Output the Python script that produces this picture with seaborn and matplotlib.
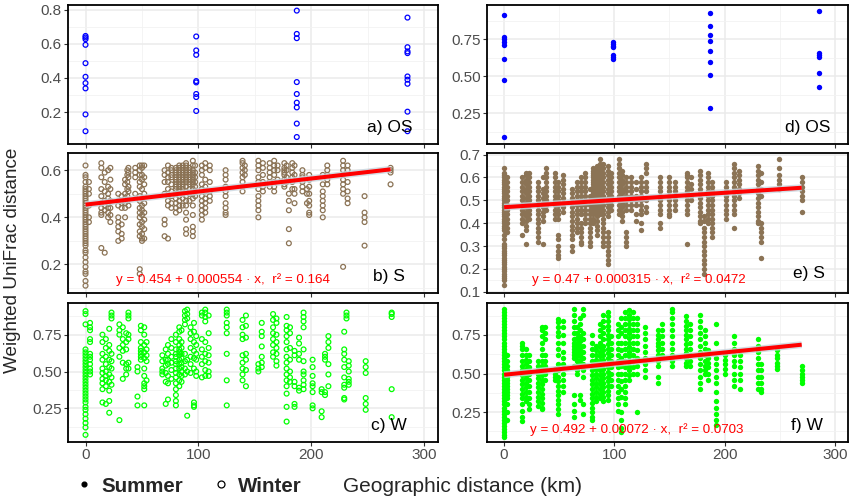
import matplotlib
matplotlib.use("Agg")
import matplotlib.pyplot as plt
import matplotlib.patheffects as pe
from matplotlib.lines import Line2D
from matplotlib.ticker import FormatStrFormatter
import pandas as pd
import seaborn as sns

# ---- data: geographic distance (km) columns and the UniFrac values at each ----
OS_WINTER_X = [0, 98, 187, 285]
OS_WINTER_Y = [
    [0.647, 0.638, 0.628, 0.595, 0.487, 0.407, 0.370, 0.339, 0.186, 0.087],
    [0.644, 0.562, 0.536, 0.382, 0.374, 0.306, 0.288, 0.206],
    [0.796, 0.659, 0.634, 0.376, 0.306, 0.255, 0.227, 0.132, 0.053],
    [0.755, 0.581, 0.556, 0.546, 0.409, 0.390, 0.366, 0.202, 0.087],
]

OS_SUMMER_X = [0, 99, 187, 286]
OS_SUMMER_Y = [
    [0.912, 0.768, 0.750, 0.730, 0.712, 0.619, 0.475, 0.088],
    [0.734, 0.721, 0.705, 0.696, 0.644, 0.628, 0.615],
    [0.930, 0.840, 0.782, 0.739, 0.673, 0.599, 0.507, 0.286],
    [0.944, 0.655, 0.644, 0.633, 0.523, 0.426],
]

S_WINTER_X = [0, 3, 14, 17, 20, 22, 29, 32, 35, 37, 38, 44, 48, 50, 52, 70, 73, 76,
              80, 83, 86, 89, 92, 95, 97, 103, 106, 110, 124, 139, 141, 153, 157, 163,
              167, 170, 176, 178, 180, 183, 185, 192, 196, 198, 210, 214, 228, 232,
              247, 270]
S_WINTER_Y = [
    [0.62, 0.58, 0.57, 0.55, 0.53, 0.52, 0.51, 0.50, 0.49, 0.48, 0.47, 0.46, 0.45, 0.44,
     0.43, 0.42, 0.41, 0.40, 0.39, 0.38, 0.37, 0.36, 0.35, 0.34, 0.33, 0.32, 0.31, 0.30,
     0.29, 0.28, 0.26, 0.25, 0.23, 0.21, 0.19, 0.17, 0.16, 0.13, 0.11],
    [0.55, 0.52, 0.50, 0.45, 0.40, 0.38],
    [0.63, 0.61, 0.57, 0.52, 0.49, 0.46, 0.44, 0.42, 0.41, 0.27],
    [0.59, 0.55, 0.51, 0.47, 0.45, 0.43, 0.25],
    [0.60, 0.53, 0.50, 0.48, 0.46, 0.44, 0.42, 0.40],
    [0.61, 0.56, 0.52, 0.47, 0.44, 0.41, 0.38],
    [0.50, 0.47, 0.45, 0.40, 0.38, 0.36, 0.34, 0.30],
    [0.49, 0.47, 0.46, 0.44, 0.37, 0.33, 0.31],
    [0.56, 0.54, 0.50, 0.48, 0.46, 0.44, 0.40],
    [0.60, 0.58, 0.55, 0.52, 0.49, 0.47],
    [0.61, 0.59, 0.57, 0.53, 0.51, 0.45],
    [0.61, 0.59, 0.57, 0.50],
    [0.62, 0.60, 0.58, 0.55, 0.53, 0.49, 0.47, 0.44, 0.42, 0.40, 0.37, 0.34, 0.32, 0.18, 0.16],
    [0.62, 0.61, 0.58, 0.56, 0.52, 0.48, 0.45, 0.43, 0.41, 0.38, 0.36, 0.33, 0.31, 0.30],
    [0.62, 0.57, 0.54, 0.50, 0.46, 0.42, 0.39, 0.35, 0.31],
    [0.60, 0.58, 0.55, 0.50, 0.39, 0.37, 0.32],
    [0.62, 0.59, 0.57, 0.55, 0.52, 0.49, 0.47, 0.45, 0.31],
    [0.61, 0.60, 0.58, 0.57, 0.54, 0.51, 0.49, 0.46, 0.44],
    [0.61, 0.60, 0.59, 0.58, 0.57, 0.56, 0.55, 0.54, 0.53, 0.52, 0.50, 0.48, 0.46, 0.44, 0.42],
    [0.62, 0.61, 0.60, 0.59, 0.58, 0.57, 0.56, 0.55, 0.54, 0.53, 0.52, 0.51, 0.49, 0.47, 0.45, 0.43],
    [0.62, 0.61, 0.60, 0.59, 0.58, 0.57, 0.56, 0.55, 0.54, 0.53, 0.52, 0.50, 0.48, 0.45],
    [0.63, 0.62, 0.61, 0.60, 0.59, 0.58, 0.57, 0.56, 0.55, 0.53, 0.51, 0.49, 0.47, 0.45, 0.42,
     0.39, 0.35, 0.33],
    [0.61, 0.60, 0.59, 0.58, 0.57, 0.56, 0.55, 0.54, 0.52, 0.50, 0.47],
    [0.64, 0.62, 0.60, 0.59, 0.58, 0.57, 0.56, 0.55, 0.54, 0.52, 0.50, 0.48, 0.45, 0.41,
     0.36, 0.34, 0.32],
    [0.62, 0.59, 0.57, 0.55, 0.53, 0.51, 0.49],
    [0.62, 0.60, 0.58, 0.54, 0.52, 0.49, 0.47, 0.45, 0.43, 0.41, 0.39],
    [0.63, 0.61, 0.56, 0.53, 0.51, 0.48, 0.46, 0.44, 0.42],
    [0.62, 0.60, 0.55, 0.51, 0.49, 0.47],
    [0.60, 0.58, 0.56, 0.53, 0.51, 0.49, 0.46, 0.44, 0.42, 0.41],
    [0.64, 0.63, 0.61, 0.59, 0.57, 0.55, 0.53, 0.51],
    [0.62, 0.60, 0.58],
    [0.64, 0.62, 0.60, 0.57, 0.55, 0.52, 0.49, 0.47, 0.45, 0.43, 0.40],
    [0.63, 0.61, 0.58, 0.55, 0.53, 0.51],
    [0.63, 0.61, 0.59, 0.57, 0.55, 0.53],
    [0.64, 0.62, 0.60, 0.58, 0.55, 0.53, 0.51],
    [0.62, 0.60, 0.56],
    [0.63, 0.61, 0.60, 0.59, 0.58, 0.56, 0.54, 0.53],
    [0.62, 0.60, 0.57, 0.55],
    [0.50, 0.47, 0.43, 0.35, 0.29],
    [0.63, 0.61, 0.59, 0.57, 0.55, 0.52],
    [0.62, 0.58, 0.52, 0.50, 0.46],
    [0.60, 0.58, 0.57, 0.55, 0.53, 0.51],
    [0.52, 0.50, 0.46],
    [0.58, 0.56, 0.53, 0.50, 0.47, 0.45, 0.42, 0.41],
    [0.58, 0.54, 0.51, 0.49, 0.47, 0.45, 0.43, 0.40],
    [0.62, 0.60, 0.58, 0.56, 0.54],
    [0.64, 0.62, 0.60, 0.58, 0.56, 0.54, 0.52, 0.50, 0.19],
    [0.62, 0.60, 0.55, 0.51, 0.48, 0.46],
    [0.49, 0.42, 0.40, 0.38, 0.28],
    [0.61, 0.60, 0.59, 0.54],
]

S_SUMMER_X = [0, 3, 16, 20, 23, 31, 35, 38, 46, 49, 53, 62, 66, 70, 73, 78, 81, 84, 87,
              90, 94, 97, 104, 107, 111, 115, 120, 124, 129, 141, 150, 155, 166, 170,
              178, 181, 185, 189, 201, 209, 213, 230, 233, 249, 270]
S_SUMMER_Y = [
    [0.64, 0.62, 0.61, 0.60, 0.59, 0.58, 0.57, 0.56, 0.55, 0.54, 0.53, 0.52, 0.51, 0.50,
     0.49, 0.48, 0.47, 0.46, 0.45, 0.44, 0.43, 0.42, 0.41, 0.40, 0.39, 0.38, 0.37, 0.35,
     0.33, 0.31, 0.30, 0.29, 0.28, 0.27, 0.26, 0.25, 0.24, 0.23, 0.22, 0.21, 0.20, 0.19,
     0.18, 0.17, 0.16, 0.15, 0.13],
    [0.60, 0.58, 0.56, 0.54, 0.52, 0.50, 0.48, 0.46, 0.44, 0.42, 0.40, 0.38, 0.36],
    [0.60, 0.58, 0.56, 0.54, 0.52, 0.50, 0.48, 0.46, 0.44, 0.42, 0.40, 0.35],
    [0.62, 0.61, 0.59, 0.57, 0.55, 0.53, 0.51, 0.49, 0.47, 0.45, 0.43, 0.41, 0.39, 0.37, 0.31],
    [0.62, 0.60, 0.58, 0.56, 0.54, 0.52, 0.50, 0.48, 0.46, 0.44, 0.42],
    [0.58, 0.56, 0.54, 0.52, 0.50, 0.48, 0.46, 0.44, 0.42, 0.40, 0.38, 0.36, 0.34, 0.32],
    [0.60, 0.55, 0.53, 0.51, 0.49, 0.47, 0.45, 0.43, 0.41, 0.31],
    [0.64, 0.62, 0.60, 0.58, 0.56, 0.54, 0.52, 0.50, 0.48, 0.46],
    [0.62, 0.60, 0.58, 0.56, 0.54, 0.52, 0.50, 0.48, 0.46, 0.44, 0.42],
    [0.58, 0.56, 0.54, 0.52, 0.50, 0.48, 0.46, 0.44, 0.42, 0.35, 0.33, 0.30, 0.28, 0.26, 0.25],
    [0.61, 0.59, 0.57, 0.55, 0.53, 0.51, 0.49, 0.47, 0.45],
    [0.55, 0.53, 0.51, 0.49, 0.47, 0.45, 0.43, 0.41, 0.39, 0.37, 0.35, 0.33, 0.30, 0.28],
    [0.58, 0.56, 0.54, 0.52, 0.50, 0.48, 0.46, 0.44, 0.42, 0.40, 0.38, 0.36],
    [0.60, 0.58, 0.56, 0.54, 0.52, 0.50, 0.48, 0.46, 0.44, 0.40, 0.38, 0.36, 0.34, 0.32, 0.31],
    [0.62, 0.60, 0.58, 0.56, 0.54, 0.52, 0.50, 0.48, 0.46, 0.44, 0.42, 0.40],
    [0.55, 0.52, 0.50, 0.48, 0.46, 0.44, 0.42, 0.40, 0.38, 0.36, 0.34, 0.32, 0.30],
    [0.64, 0.63, 0.62, 0.61, 0.60, 0.59, 0.58, 0.57, 0.56, 0.55, 0.54, 0.53, 0.52, 0.51,
     0.50, 0.49, 0.48, 0.47, 0.46, 0.45, 0.44, 0.42, 0.40],
    [0.65, 0.64, 0.63, 0.62, 0.61, 0.60, 0.59, 0.58, 0.57, 0.56, 0.55, 0.54, 0.53, 0.52,
     0.51, 0.50, 0.49, 0.48, 0.47, 0.46, 0.45, 0.44, 0.43, 0.41, 0.39, 0.37, 0.35],
    [0.68, 0.66, 0.64, 0.63, 0.62, 0.61, 0.60, 0.59, 0.58, 0.57, 0.56, 0.55, 0.54, 0.53,
     0.52, 0.51, 0.50, 0.49, 0.48, 0.47, 0.46, 0.45, 0.44],
    [0.66, 0.64, 0.62, 0.60, 0.58, 0.56, 0.54, 0.52, 0.50, 0.48, 0.46, 0.44, 0.42, 0.40,
     0.38, 0.36, 0.34, 0.32, 0.30],
    [0.65, 0.63, 0.61, 0.59, 0.57, 0.55, 0.53, 0.51, 0.49, 0.47, 0.45, 0.43, 0.36, 0.34,
     0.32, 0.30, 0.28, 0.26, 0.24, 0.22],
    [0.62, 0.60, 0.58, 0.56, 0.54, 0.52, 0.50, 0.48, 0.46],
    [0.68, 0.66, 0.64, 0.62, 0.60, 0.58, 0.56, 0.54, 0.52, 0.50, 0.48, 0.46, 0.44],
    [0.63, 0.61, 0.59, 0.57, 0.55, 0.53, 0.51, 0.49, 0.47, 0.45, 0.43, 0.41],
    [0.60, 0.58, 0.56, 0.54, 0.52, 0.50, 0.48, 0.46, 0.36, 0.34, 0.32, 0.30],
    [0.60, 0.58, 0.56, 0.54, 0.52, 0.50, 0.48, 0.46],
    [0.58, 0.55, 0.52, 0.50, 0.48, 0.44, 0.41],
    [0.60, 0.58, 0.56, 0.54, 0.52, 0.50, 0.48, 0.46, 0.44, 0.40, 0.37],
    [0.66, 0.64, 0.62, 0.58, 0.56, 0.54, 0.50, 0.47, 0.45],
    [0.60, 0.58, 0.56, 0.54, 0.52, 0.50, 0.48, 0.46, 0.44, 0.40, 0.38],
    [0.60, 0.58, 0.56, 0.54, 0.52, 0.50, 0.48, 0.46, 0.44, 0.43],
    [0.58, 0.56, 0.54, 0.52, 0.50, 0.48, 0.46],
    [0.62, 0.61, 0.60, 0.58, 0.56, 0.54, 0.52, 0.50, 0.48, 0.46, 0.44, 0.31],
    [0.60, 0.57, 0.55, 0.52, 0.50],
    [0.63, 0.61, 0.59, 0.57, 0.55, 0.53, 0.51, 0.49, 0.47, 0.45, 0.43, 0.41, 0.40],
    [0.43, 0.41, 0.38, 0.36, 0.34, 0.32, 0.30, 0.28, 0.26, 0.24, 0.22, 0.20, 0.18],
    [0.62, 0.60, 0.58, 0.56, 0.54, 0.52, 0.50, 0.48, 0.46, 0.44, 0.42, 0.40],
    [0.58, 0.56, 0.54, 0.52, 0.50, 0.48, 0.46, 0.44, 0.42, 0.40, 0.38, 0.36, 0.34],
    [0.58, 0.56, 0.54, 0.52, 0.50, 0.48, 0.46, 0.44, 0.42],
    [0.66, 0.64, 0.62, 0.60, 0.58, 0.56, 0.54, 0.52, 0.50, 0.48, 0.46, 0.44, 0.38],
    [0.63, 0.61, 0.59, 0.57, 0.55, 0.53, 0.51],
    [0.65, 0.63, 0.61, 0.59, 0.57, 0.55, 0.53, 0.51, 0.49, 0.47, 0.45, 0.43, 0.41, 0.40],
    [0.62, 0.58, 0.55, 0.52, 0.40, 0.38, 0.36, 0.34, 0.32, 0.25],
    [0.68, 0.64, 0.61, 0.59, 0.57, 0.55],
    [0.60, 0.58, 0.56, 0.54, 0.52, 0.50, 0.45],
]

W_WINTER_X = [0, 4, 15, 18, 21, 23, 30, 33, 36, 38, 46, 49, 52, 54, 68, 71, 73, 76,
              80, 83, 85, 88, 90, 93, 96, 98, 103, 106, 109, 125, 139, 142, 153, 156,
              166, 169, 178, 181, 185, 189, 193, 201, 209, 212, 215, 229, 231, 233,
              248, 271]
W_WINTER_Y = [
    [0.91, 0.89, 0.82, 0.65, 0.63, 0.61, 0.59, 0.57, 0.55, 0.53, 0.51, 0.49, 0.47, 0.45,
     0.43, 0.41, 0.39, 0.37, 0.35, 0.33, 0.31, 0.29, 0.26, 0.24, 0.21, 0.18, 0.15, 0.12, 0.07],
    [0.83, 0.80, 0.78, 0.72, 0.70, 0.62, 0.60, 0.58, 0.55, 0.52, 0.50, 0.48],
    [0.75, 0.70, 0.62, 0.58, 0.52, 0.49, 0.45, 0.42, 0.38, 0.29],
    [0.72, 0.66, 0.60, 0.55, 0.50, 0.47, 0.44, 0.40, 0.28],
    [0.79, 0.68, 0.64, 0.58, 0.53, 0.48, 0.43, 0.37, 0.30, 0.22],
    [0.90, 0.88, 0.86, 0.62, 0.57, 0.52, 0.46, 0.41],
    [0.82, 0.78, 0.75, 0.66, 0.60, 0.17],
    [0.80, 0.72, 0.68, 0.64, 0.56, 0.45],
    [0.76, 0.70, 0.65, 0.55, 0.52, 0.48],
    [0.90, 0.88, 0.86, 0.75, 0.72, 0.56, 0.52],
    [0.53, 0.50, 0.33, 0.27],
    [0.81, 0.78, 0.70, 0.66, 0.64, 0.62, 0.60, 0.58],
    [0.80, 0.75, 0.68, 0.63, 0.59, 0.52, 0.47, 0.42, 0.40, 0.38, 0.27],
    [0.70, 0.65, 0.61, 0.57, 0.44],
    [0.61, 0.57, 0.52, 0.50, 0.48],
    [0.65, 0.58, 0.54, 0.49, 0.43, 0.28],
    [0.68, 0.62, 0.58, 0.55, 0.47, 0.42, 0.31],
    [0.72, 0.66, 0.60, 0.56, 0.51, 0.45],
    [0.75, 0.70, 0.65, 0.62, 0.60, 0.57, 0.55, 0.52, 0.49, 0.46, 0.42, 0.38, 0.34, 0.30, 0.27],
    [0.80, 0.77, 0.72, 0.68, 0.65, 0.63, 0.61, 0.58, 0.55, 0.52, 0.48, 0.44, 0.40],
    [0.78, 0.70, 0.66, 0.62, 0.59, 0.56, 0.53, 0.50, 0.47, 0.43],
    [0.91, 0.88, 0.85, 0.82, 0.62, 0.57, 0.52, 0.48],
    [0.92, 0.89, 0.86, 0.58, 0.50, 0.20],
    [0.80, 0.76, 0.72, 0.66, 0.60, 0.55, 0.49],
    [0.83, 0.77, 0.70, 0.64, 0.59, 0.52, 0.29, 0.27, 0.26],
    [0.74, 0.68, 0.62, 0.58, 0.50, 0.47],
    [0.90, 0.88, 0.72, 0.65, 0.60, 0.55, 0.46],
    [0.92, 0.90, 0.87, 0.84, 0.70, 0.62, 0.57, 0.51, 0.47],
    [0.88, 0.76, 0.66, 0.61, 0.56, 0.50, 0.47],
    [0.92, 0.90, 0.88, 0.83, 0.80, 0.76, 0.62, 0.44, 0.27],
    [0.85, 0.80, 0.75, 0.72, 0.61, 0.56, 0.52, 0.48, 0.44],
    [0.88, 0.81, 0.73, 0.62, 0.58, 0.51, 0.40],
    [0.55, 0.52, 0.50],
    [0.83, 0.77, 0.74, 0.67, 0.60, 0.56, 0.53],
    [0.89, 0.85, 0.80, 0.76, 0.72, 0.68, 0.63, 0.60],
    [0.86, 0.83, 0.75, 0.70, 0.66, 0.62, 0.57, 0.54],
    [0.87, 0.81, 0.78, 0.74, 0.70, 0.65, 0.60, 0.56, 0.52, 0.48, 0.44, 0.40, 0.35, 0.26, 0.16],
    [0.80, 0.76, 0.66, 0.58, 0.50, 0.46, 0.43],
    [0.64, 0.61, 0.43, 0.40, 0.28, 0.26],
    [0.73, 0.69, 0.62, 0.58, 0.39, 0.37],
    [0.90, 0.87, 0.84, 0.80, 0.65, 0.57, 0.50, 0.48, 0.44, 0.41, 0.38],
    [0.58, 0.53, 0.47, 0.42, 0.40, 0.36, 0.27, 0.25],
    [0.38, 0.36, 0.23, 0.19],
    [0.62, 0.60, 0.58, 0.36, 0.34],
    [0.74, 0.70, 0.66, 0.55, 0.48, 0.40],
    [0.77, 0.65, 0.62, 0.58, 0.53, 0.46, 0.41, 0.39, 0.32, 0.31],
    [0.90, 0.88, 0.86],
    [0.57, 0.54, 0.50, 0.45, 0.43, 0.41],
    [0.57, 0.53, 0.49, 0.32, 0.28, 0.24],
    [0.90, 0.89, 0.87, 0.38, 0.19],
]

W_SUMMER_X = [0, 3, 16, 20, 23, 31, 34, 37, 46, 49, 53, 63, 66, 69, 72, 80, 83, 87, 90,
              94, 97, 103, 106, 110, 113, 117, 121, 128, 140, 143, 152, 165, 169, 178,
              182, 185, 192, 200, 209, 214, 230, 233, 248, 270]
W_SUMMER_Y = [
    [0.92, 0.90, 0.88, 0.86, 0.84, 0.82, 0.80, 0.78, 0.76, 0.74, 0.72, 0.70, 0.68, 0.66,
     0.64, 0.62, 0.60, 0.58, 0.56, 0.54, 0.52, 0.50, 0.48, 0.46, 0.44, 0.42, 0.40, 0.38,
     0.36, 0.34, 0.32, 0.30, 0.28, 0.26, 0.24, 0.22, 0.20, 0.18, 0.16, 0.14, 0.12, 0.10, 0.09],
    [0.62, 0.58, 0.55, 0.52, 0.50, 0.48, 0.46, 0.44, 0.42, 0.40, 0.38, 0.36, 0.34, 0.30, 0.25, 0.20],
    [0.70, 0.68, 0.66, 0.62, 0.58, 0.55, 0.52, 0.49, 0.46, 0.43, 0.40, 0.37, 0.34, 0.30,
     0.26, 0.22, 0.19],
    [0.66, 0.62, 0.59, 0.56, 0.53, 0.50, 0.47, 0.44, 0.41, 0.38, 0.35, 0.32],
    [0.62, 0.58, 0.54, 0.50, 0.46, 0.42, 0.38, 0.34, 0.30, 0.27],
    [0.58, 0.55, 0.52, 0.50, 0.47, 0.44, 0.41, 0.38, 0.35, 0.32, 0.29],
    [0.80, 0.78, 0.74, 0.70, 0.66, 0.62, 0.58, 0.55, 0.52, 0.49, 0.46, 0.43, 0.40, 0.37,
     0.34, 0.31, 0.28, 0.27],
    [0.80, 0.76, 0.72, 0.62, 0.58, 0.55, 0.50, 0.46],
    [0.53, 0.50, 0.48, 0.46],
    [0.85, 0.83, 0.80, 0.77, 0.74, 0.70, 0.66, 0.62, 0.56, 0.52, 0.48, 0.45, 0.42, 0.39,
     0.36, 0.33, 0.30, 0.27, 0.24],
    [0.84, 0.80, 0.75, 0.70, 0.64, 0.60, 0.56, 0.50, 0.46, 0.42, 0.38],
    [0.92, 0.88, 0.84, 0.80, 0.76, 0.72, 0.70, 0.68, 0.66, 0.64, 0.62, 0.60, 0.55, 0.36,
     0.30, 0.26, 0.22],
    [0.80, 0.76, 0.73, 0.70, 0.67, 0.64, 0.61, 0.58, 0.55, 0.52, 0.50],
    [0.86, 0.82, 0.78, 0.74, 0.71, 0.68, 0.65, 0.62, 0.59, 0.56, 0.36, 0.33],
    [0.92, 0.88, 0.76, 0.72, 0.68, 0.64, 0.60, 0.56, 0.52, 0.48, 0.30, 0.24],
    [0.75, 0.70, 0.66, 0.62, 0.58, 0.55, 0.52, 0.49, 0.46, 0.43, 0.40, 0.37, 0.34, 0.31,
     0.28, 0.25, 0.22, 0.20],
    [0.68, 0.65, 0.62, 0.59, 0.56, 0.53, 0.50, 0.47, 0.44, 0.41, 0.38, 0.35, 0.32],
    [0.82, 0.78, 0.74, 0.70, 0.67, 0.64, 0.61, 0.58, 0.55, 0.52, 0.49, 0.46, 0.43, 0.40, 0.37, 0.34],
    [0.88, 0.84, 0.80, 0.76, 0.72, 0.68, 0.65, 0.62, 0.59, 0.56, 0.53, 0.50, 0.47, 0.44,
     0.41, 0.38, 0.35, 0.32],
    [0.90, 0.87, 0.84, 0.81, 0.78, 0.75, 0.72, 0.69, 0.66, 0.63, 0.60, 0.57, 0.54, 0.51,
     0.48, 0.45, 0.42, 0.39, 0.36, 0.33],
    [0.74, 0.70, 0.66, 0.62, 0.58, 0.54, 0.50, 0.46, 0.42],
    [0.82, 0.78, 0.74, 0.70, 0.66, 0.62, 0.58, 0.54, 0.50, 0.46, 0.42, 0.38, 0.34, 0.30, 0.26],
    [0.86, 0.80, 0.76, 0.70, 0.65, 0.60, 0.55, 0.50, 0.45, 0.40, 0.35, 0.25, 0.20, 0.15, 0.12],
    [0.90, 0.86, 0.82, 0.78, 0.74, 0.70, 0.66, 0.62, 0.58, 0.54, 0.50, 0.46, 0.42, 0.38, 0.34, 0.30],
    [0.91, 0.88, 0.85, 0.82, 0.79, 0.76, 0.73, 0.70, 0.67, 0.64, 0.61, 0.58, 0.55, 0.52, 0.49, 0.46],
    [0.90, 0.86, 0.82, 0.78, 0.74, 0.70, 0.66, 0.62, 0.58, 0.54, 0.50],
    [0.86, 0.82, 0.78, 0.74, 0.70, 0.65, 0.60, 0.55, 0.50, 0.25],
    [0.80, 0.76, 0.72, 0.68, 0.64, 0.60, 0.56, 0.52, 0.48],
    [0.78, 0.75, 0.72, 0.70, 0.68, 0.65, 0.62, 0.58, 0.55, 0.48, 0.44],
    [0.82, 0.78, 0.74, 0.70, 0.66, 0.62],
    [0.92, 0.90, 0.86, 0.82, 0.78, 0.74, 0.70, 0.66, 0.62, 0.58, 0.55],
    [0.87, 0.84, 0.81, 0.78, 0.75, 0.72, 0.69, 0.66, 0.63, 0.60, 0.57, 0.55],
    [0.82, 0.78, 0.74, 0.70, 0.66, 0.62, 0.58, 0.55],
    [0.88, 0.84, 0.80, 0.76, 0.72, 0.68, 0.64, 0.60, 0.56, 0.52, 0.48, 0.44, 0.40],
    [0.78, 0.74, 0.70, 0.66, 0.62, 0.58, 0.55, 0.52, 0.50],
    [0.65, 0.60, 0.57, 0.54, 0.50, 0.46],
    [0.82, 0.70, 0.60, 0.56, 0.52, 0.48, 0.44, 0.38, 0.32, 0.28, 0.24, 0.20, 0.17],
    [0.62, 0.59, 0.56, 0.53, 0.50],
    [0.74, 0.70, 0.66, 0.62, 0.58, 0.55, 0.50, 0.46, 0.42],
    [0.62, 0.58, 0.54, 0.50, 0.46, 0.40],
    [0.72, 0.68, 0.64, 0.60, 0.56, 0.52, 0.48, 0.44, 0.40],
    [0.56, 0.52, 0.48, 0.44, 0.40, 0.38],
    [0.65, 0.62, 0.60, 0.57, 0.55, 0.53],
    [0.55, 0.52, 0.50, 0.48, 0.46, 0.44],
]

# fitted lines printed on the panels: intercept, slope, r^2
FIT_S_WINTER = (0.454, 0.000554, 0.164)
FIT_S_SUMMER = (0.47, 0.000315, 0.0472)
FIT_W_SUMMER = (0.492, 0.00072, 0.0703)

BLUE = "#0000FF"
BROWN = "#8B7355"
GREEN = "#00FF00"


def to_frame(xs, ys):
    rows = [(x, y) for x, col in zip(xs, ys) for y in col]
    return pd.DataFrame(rows, columns=["dist", "unifrac"])


sns.set_theme(style="whitegrid")
plt.rcParams["font.family"] = ["Liberation Sans", "DejaVu Sans"]

fig = plt.figure(figsize=(8.56, 5.0), dpi=100)
W, H = 856, 500
rows_px = [(5, 144), (153, 293), (303, 442)]
cols_px = [(68, 438), (487, 848)]
axes = [[None, None] for _ in range(3)]
for r, (t, b) in enumerate(rows_px):
    for c, (l, rr) in enumerate(cols_px):
        axes[r][c] = fig.add_axes([l / W, 1 - b / H, (rr - l) / W, (b - t) / H])

panels = [
    # row, col, data, colour, filled, ylim, yticks, fmt, minor, tag, tag pos, fit, eq pos
    (0, 0, to_frame(OS_WINTER_X, OS_WINTER_Y), BLUE, False, (0.012, 0.829),
     [0.2, 0.4, 0.6, 0.8], "%.1f", [0.1, 0.3, 0.5, 0.7], "a) OS", (0.93, 0.12), None, None),
    (1, 0, to_frame(S_WINTER_X, S_WINTER_Y), BROWN, False, (0.079, 0.673),
     [0.2, 0.4, 0.6], "%.1f", [0.1, 0.3, 0.5], "b) S", (0.91, 0.115), FIT_S_WINTER, (0.42, 0.093)),
    (2, 0, to_frame(W_WINTER_X, W_WINTER_Y), GREEN, False, (0.0215, 0.965),
     [0.25, 0.5, 0.75], "%.2f", [0.125, 0.375, 0.625, 0.875], "c) W", (0.916, 0.12), None, None),
    (0, 1, to_frame(OS_SUMMER_X, OS_SUMMER_Y), BLUE, True, (0.043, 0.982),
     [0.25, 0.5, 0.75], "%.2f", [0.125, 0.375, 0.625, 0.875], "d) OS", (0.95, 0.12), None, None),
    (1, 1, to_frame(S_SUMMER_X, S_SUMMER_Y), BROWN, True, (0.095, 0.707),
     [0.1, 0.2, 0.3, 0.4, 0.5, 0.6, 0.7], "%.1f", [0.15, 0.25, 0.35, 0.45, 0.55, 0.65],
     "e) S", (0.936, 0.14), FIT_S_SUMMER, (0.42, 0.093)),
    (2, 1, to_frame(W_SUMMER_X, W_SUMMER_Y), GREEN, True, (0.057, 0.956),
     [0.25, 0.5, 0.75], "%.2f", [0.125, 0.375, 0.625, 0.875], "f) W", (0.931, 0.12), FIT_W_SUMMER, (0.415, 0.086)),
]

for r, c, df, col, filled, ylim, yticks, fmt, minor, tag, tagpos, fit, eqpos in panels:
    ax = axes[r][c]
    if filled:
        sns.scatterplot(data=df, x="dist", y="unifrac", ax=ax, color=col, s=15,
                        linewidth=0, marker="o", zorder=3)
    else:
        sns.scatterplot(data=df, x="dist", y="unifrac", ax=ax, s=12, marker="o",
                        facecolors="none", edgecolor=col, linewidth=0.9, zorder=3)
    if fit is not None:
        a, b, r2 = fit
        xs = [0, df["dist"].max()]
        ax.plot(xs, [a + b * x for x in xs], color="#FF0000", lw=2.9, zorder=4,
                solid_capstyle="butt",
                path_effects=[pe.Stroke(linewidth=5, foreground="#C9D6DF", alpha=0.8), pe.Normal()])
        ax.text(eqpos[0], eqpos[1], f"y = {a:g} + {b:g} \u00b7 x,  r\u00b2 = {r2:g}",
                transform=ax.transAxes, ha="center", va="center", color="#FF0000",
                fontsize=9.6, zorder=5)
    ax.text(tagpos[0], tagpos[1], tag, transform=ax.transAxes, ha="right", va="center",
            fontsize=12.5, color="black", zorder=5)

    ax.set_xlim(-15.5, 312)
    ax.set_ylim(*ylim)
    ax.set_xticks([0, 100, 200, 300])
    ax.set_xticks([50, 150, 250], minor=True)
    ax.set_yticks(yticks)
    ax.set_yticks(minor, minor=True)
    ax.yaxis.set_major_formatter(FormatStrFormatter(fmt))
    ax.set(xlabel="", ylabel="")
    ax.grid(which="major", color="#EBEBEB", lw=1.1)
    ax.grid(which="minor", color="#F2F2F2", lw=0.6)
    ax.set_axisbelow(True)
    ax.tick_params(which="minor", length=0)
    ax.tick_params(which="major", length=3, width=0.8, color="#333333",
                   labelcolor="#4D4D4D", labelsize=11, pad=1.5,
                   bottom=True, left=True)
    if r < 2:
        ax.tick_params(axis="x", labelbottom=False)
    for s in ax.spines.values():
        s.set_color("black")
        s.set_linewidth(1.3)

fig.text(0.015, 0.48, "Weighted UniFrac distance", rotation=90, ha="center",
         va="center", fontsize=13.6)
fig.text(0.54, 0.028, "Geographic distance (km)", ha="center", va="center", fontsize=15)

handles = [
    Line2D([], [], marker="o", ls="", color="black", markersize=3.4),
    Line2D([], [], marker="o", ls="", markerfacecolor="none", markeredgecolor="black",
           markersize=5, markeredgewidth=0.9),
]
fig.legend(handles, ["Summer", "Winter"], loc="center left", bbox_to_anchor=(0.076, 0.028),
           ncol=2, frameon=False, prop={"weight": "bold", "size": 14.8},
           handletextpad=0.35, columnspacing=1.35, handlelength=1.0, borderaxespad=0)

fig.savefig("out.png", dpi=100)
